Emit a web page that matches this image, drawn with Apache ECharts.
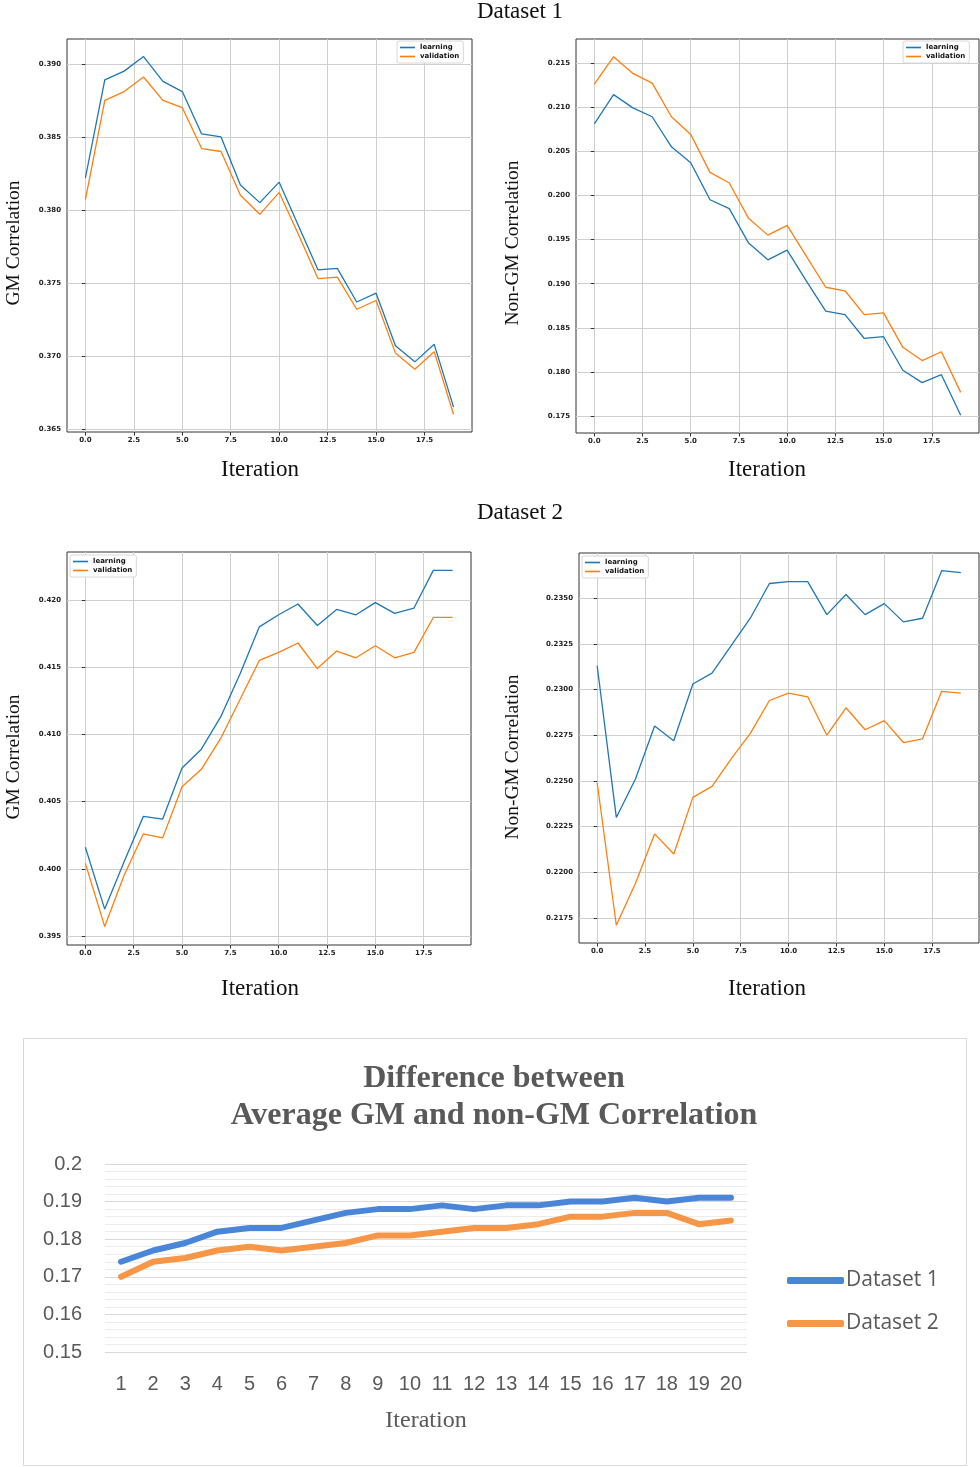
<!DOCTYPE html>
<html>
<head>
<meta charset="utf-8">
<script src="https://cdn.jsdelivr.net/npm/echarts@6/dist/echarts.min.js"></script>
<style>
html,body{margin:0;padding:0;background:#fff;}
#chart{width:980px;height:1467px;}
</style>
</head>
<body>
<div id="chart"></div>
<script>
// ---- data ----
const iterations = [0,1,2,3,4,5,6,7,8,9,10,11,12,13,14,15,16,17,18,19];

const d1GmLearning   = [0.3822,0.3889,0.3895,0.3905,0.3888,0.3881,0.3852,0.3850,0.3817,0.3805,0.3819,0.3789,0.3759,0.3760,0.3737,0.3743,0.3707,0.3696,0.3708,0.3665];
const d1GmValidation = [0.3807,0.3875,0.3881,0.3891,0.3875,0.3870,0.3842,0.3840,0.3810,0.3797,0.3812,0.3783,0.3753,0.3754,0.3732,0.3738,0.3702,0.3691,0.3703,0.3660];

const d1NonLearning   = [0.2081,0.2114,0.2099,0.2089,0.2055,0.2037,0.1995,0.1985,0.1946,0.1927,0.1938,0.1903,0.1869,0.1865,0.1838,0.1840,0.1802,0.1788,0.1797,0.1751];
const d1NonValidation = [0.2126,0.2157,0.2138,0.2127,0.2089,0.2069,0.2026,0.2014,0.1974,0.1955,0.1966,0.1931,0.1896,0.1892,0.1865,0.1867,0.1828,0.1813,0.1823,0.1777];

const d2GmLearning   = [0.4016,0.3970,0.4005,0.4039,0.4037,0.4075,0.4089,0.4113,0.4145,0.4180,0.4189,0.4197,0.4181,0.4193,0.4189,0.4198,0.4190,0.4194,0.4222,0.4222];
const d2GmValidation = [0.4004,0.3957,0.3995,0.4026,0.4023,0.4061,0.4074,0.4097,0.4126,0.4155,0.4161,0.4168,0.4149,0.4162,0.4157,0.4166,0.4157,0.4161,0.4187,0.4187];

const d2NonLearning   = [0.2313,0.2230,0.2251,0.2280,0.2272,0.2303,0.2309,0.2324,0.2339,0.2358,0.2359,0.2359,0.2341,0.2352,0.2341,0.2347,0.2337,0.2339,0.2365,0.2364];
const d2NonValidation = [0.2249,0.2171,0.2194,0.2221,0.2210,0.2241,0.2247,0.2262,0.2276,0.2294,0.2298,0.2296,0.2275,0.2290,0.2278,0.2283,0.2271,0.2273,0.2299,0.2298];

const diffCategories = ['1','2','3','4','5','6','7','8','9','10','11','12','13','14','15','16','17','18','19','20'];
const diffDataset1 = [0.174,0.177,0.179,0.182,0.183,0.183,0.185,0.187,0.188,0.188,0.189,0.188,0.189,0.189,0.190,0.190,0.191,0.190,0.191,0.191];
const diffDataset2 = [0.170,0.174,0.175,0.177,0.178,0.177,0.178,0.179,0.181,0.181,0.182,0.183,0.183,0.184,0.186,0.186,0.187,0.187,0.184,0.185];

const xTickValues = [0,2.5,5,7.5,10,12.5,15,17.5];
const yTicksD1Gm  = [0.365,0.370,0.375,0.380,0.385,0.390];
const yTicksD1Non = [0.175,0.180,0.185,0.190,0.195,0.200,0.205,0.210,0.215];
const yTicksD2Gm  = [0.395,0.400,0.405,0.410,0.415,0.420];
const yTicksD2Non = [0.2175,0.2200,0.2225,0.2250,0.2275,0.2300,0.2325,0.2350];

// ---- styling helpers ----
const BLUE = '#1f77b4', ORANGE = '#ff7f0e';
const tickFont = {fontSize: 7, fontWeight: 'bold', color: '#222', fontFamily: 'DejaVu Sans'};
const gridStyle = {show: true, borderColor: '#333', borderWidth: 1, backgroundColor: '#fff'};

function mplX(gi){
  return {
    type: 'value', gridIndex: gi, min: -0.95, max: 19.95,
    axisLine: {show: false},
    axisTick: {show: true, length: 3.5, lineStyle: {color: '#333'}, customValues: xTickValues},
    axisLabel: Object.assign({margin: 5, customValues: xTickValues, formatter: v => v.toFixed(1)}, tickFont),
    splitLine: {show: true, lineStyle: {color: '#cfcfcf', width: 1}}
  };
}
function mplY(gi, min, max, ticks, dec){
  return {
    type: 'value', gridIndex: gi, min: min, max: max,
    axisLine: {show: false},
    axisTick: {show: true, length: 3.5, lineStyle: {color: '#333'}, customValues: ticks},
    axisLabel: Object.assign({margin: 6, customValues: ticks, formatter: v => v.toFixed(dec)}, tickFont),
    splitLine: {show: true, lineStyle: {color: '#cfcfcf', width: 1}}
  };
}
function pts(arr){ return iterations.map((x, i) => [x, arr[i]]); }
function mplSeries(name, gi, arr, color){
  return {
    name: name, type: 'line', xAxisIndex: gi, yAxisIndex: gi,
    data: pts(arr), symbol: 'none', silent: true,
    lineStyle: {color: color, width: 1.3}, itemStyle: {color: color}
  };
}
function mplLegend(left, top){
  return {
    data: ['learning', 'validation'], orient: 'vertical', left: left, top: top,
    icon: 'rect', itemWidth: 15, itemHeight: 1.6, itemGap: 2,
    padding: [3, 4, 3, 3],
    backgroundColor: '#fff', borderColor: '#d8d8d8', borderWidth: 1, borderRadius: 2,
    textStyle: {fontSize: 7, fontWeight: 'bold', color: '#111', fontFamily: 'DejaVu Sans'},
    selectedMode: false
  };
}
const serif = 'Liberation Serif, Times New Roman, serif';
function txt(text, x, y, size, opts){
  return Object.assign({
    type: 'text', x: x, y: y, silent: true,
    style: {text: text, font: (opts && opts.weight ? opts.weight + ' ' : '') + size + 'px ' + serif,
            fill: (opts && opts.fill) || '#111', align: 'center', verticalAlign: 'middle'}
  }, opts && opts.rotation ? {rotation: opts.rotation} : {});
}

const chart = echarts.init(document.getElementById('chart'), null, {renderer: 'canvas'});

const option = {
  animation: false,
  backgroundColor: '#fff',
  grid: [
    Object.assign({left: 67, top: 39, width: 405, height: 393}, gridStyle),
    Object.assign({left: 576, top: 39, width: 403, height: 394}, gridStyle),
    Object.assign({left: 67, top: 552, width: 404, height: 393}, gridStyle),
    Object.assign({left: 579, top: 553, width: 400, height: 390}, gridStyle),
    {left: 105, top: 1164, width: 642, height: 188, show: false}
  ],
  xAxis: [
    mplX(0), mplX(1), mplX(2), mplX(3),
    {
      type: 'category', gridIndex: 4, data: diffCategories, boundaryGap: true,
      axisLine: {show: false}, axisTick: {show: false},
      axisLabel: {margin: 22, fontSize: 20, color: '#595959', fontFamily: 'Liberation Sans Narrow, Liberation Sans, sans-serif'},
      splitLine: {show: false}
    }
  ],
  yAxis: [
    mplY(0, 0.3648, 0.3917, yTicksD1Gm, 3),
    mplY(1, 0.1731, 0.2177, yTicksD1Non, 3),
    mplY(2, 0.39433, 0.42357, yTicksD2Gm, 3),
    mplY(3, 0.21613, 0.23747, yTicksD2Non, 4),
    {
      type: 'value', gridIndex: 4, min: 0.15, max: 0.2, interval: 0.01,
      axisLine: {show: false}, axisTick: {show: false},
      axisLabel: {margin: 23, fontSize: 20, color: '#595959', fontFamily: 'Liberation Sans Narrow, Liberation Sans, sans-serif'},
      splitLine: {show: true, lineStyle: {color: '#d9d9d9', width: 1.2}},
      minorTick: {show: false, splitNumber: 5},
      minorSplitLine: {show: true, lineStyle: {color: '#ececec', width: 1}}
    }
  ],
  legend: [
    mplLegend(397, 41),
    mplLegend(903, 41),
    mplLegend(70, 555),
    mplLegend(582, 556),
    {
      data: ['Dataset 1', 'Dataset 2'], orient: 'vertical', left: 782, top: 1265,
      icon: 'roundRect', itemWidth: 57, itemHeight: 7, itemGap: 22,
      textStyle: {fontSize: 21, color: '#595959', fontFamily: 'Open Sans, Liberation Sans, sans-serif', padding: [0,0,0,-3]},
      selectedMode: false
    }
  ],
  series: [
    mplSeries('learning', 0, d1GmLearning, BLUE),
    mplSeries('validation', 0, d1GmValidation, ORANGE),
    mplSeries('learning', 1, d1NonLearning, BLUE),
    mplSeries('validation', 1, d1NonValidation, ORANGE),
    mplSeries('learning', 2, d2GmLearning, BLUE),
    mplSeries('validation', 2, d2GmValidation, ORANGE),
    mplSeries('learning', 3, d2NonLearning, BLUE),
    mplSeries('validation', 3, d2NonValidation, ORANGE),
    {
      name: 'Dataset 1', type: 'line', xAxisIndex: 4, yAxisIndex: 4, data: diffDataset1,
      symbol: 'none', silent: true,
      lineStyle: {color: '#4a86d8', width: 6, cap: 'round', join: 'round'}, itemStyle: {color: '#4a86d8'}
    },
    {
      name: 'Dataset 2', type: 'line', xAxisIndex: 4, yAxisIndex: 4, data: diffDataset2,
      symbol: 'none', silent: true,
      lineStyle: {color: '#f79646', width: 6, cap: 'round', join: 'round'}, itemStyle: {color: '#f79646'}
    }
  ],
  graphic: [
    {type: 'rect', z: -10, silent: true, shape: {x: 23.5, y: 1038.5, width: 943, height: 427},
     style: {fill: '#fff', stroke: '#d9d9d9', lineWidth: 1}},
    txt('Dataset 1', 520, 12, 23),
    txt('Dataset 2', 520, 513, 23),
    txt('Iteration', 260, 470, 23),
    txt('Iteration', 767, 470, 23),
    txt('Iteration', 260, 989, 23),
    txt('Iteration', 767, 989, 23),
    txt('GM Correlation', 14, 243, 19.5, {rotation: Math.PI / 2}),
    txt('Non-GM Correlation', 513, 243, 19.5, {rotation: Math.PI / 2}),
    txt('GM Correlation', 14, 757, 19.5, {rotation: Math.PI / 2}),
    txt('Non-GM Correlation', 513, 757, 19.5, {rotation: Math.PI / 2}),
    txt('Difference between', 494, 1079, 32, {weight: 'bold', fill: '#595959'}),
    txt('Average GM and non-GM Correlation', 494, 1116, 32, {weight: 'bold', fill: '#595959'}),
    txt('Iteration', 426, 1421, 24, {fill: '#595959'})
  ]
};
chart.setOption(option);
</script>
</body>
</html>
